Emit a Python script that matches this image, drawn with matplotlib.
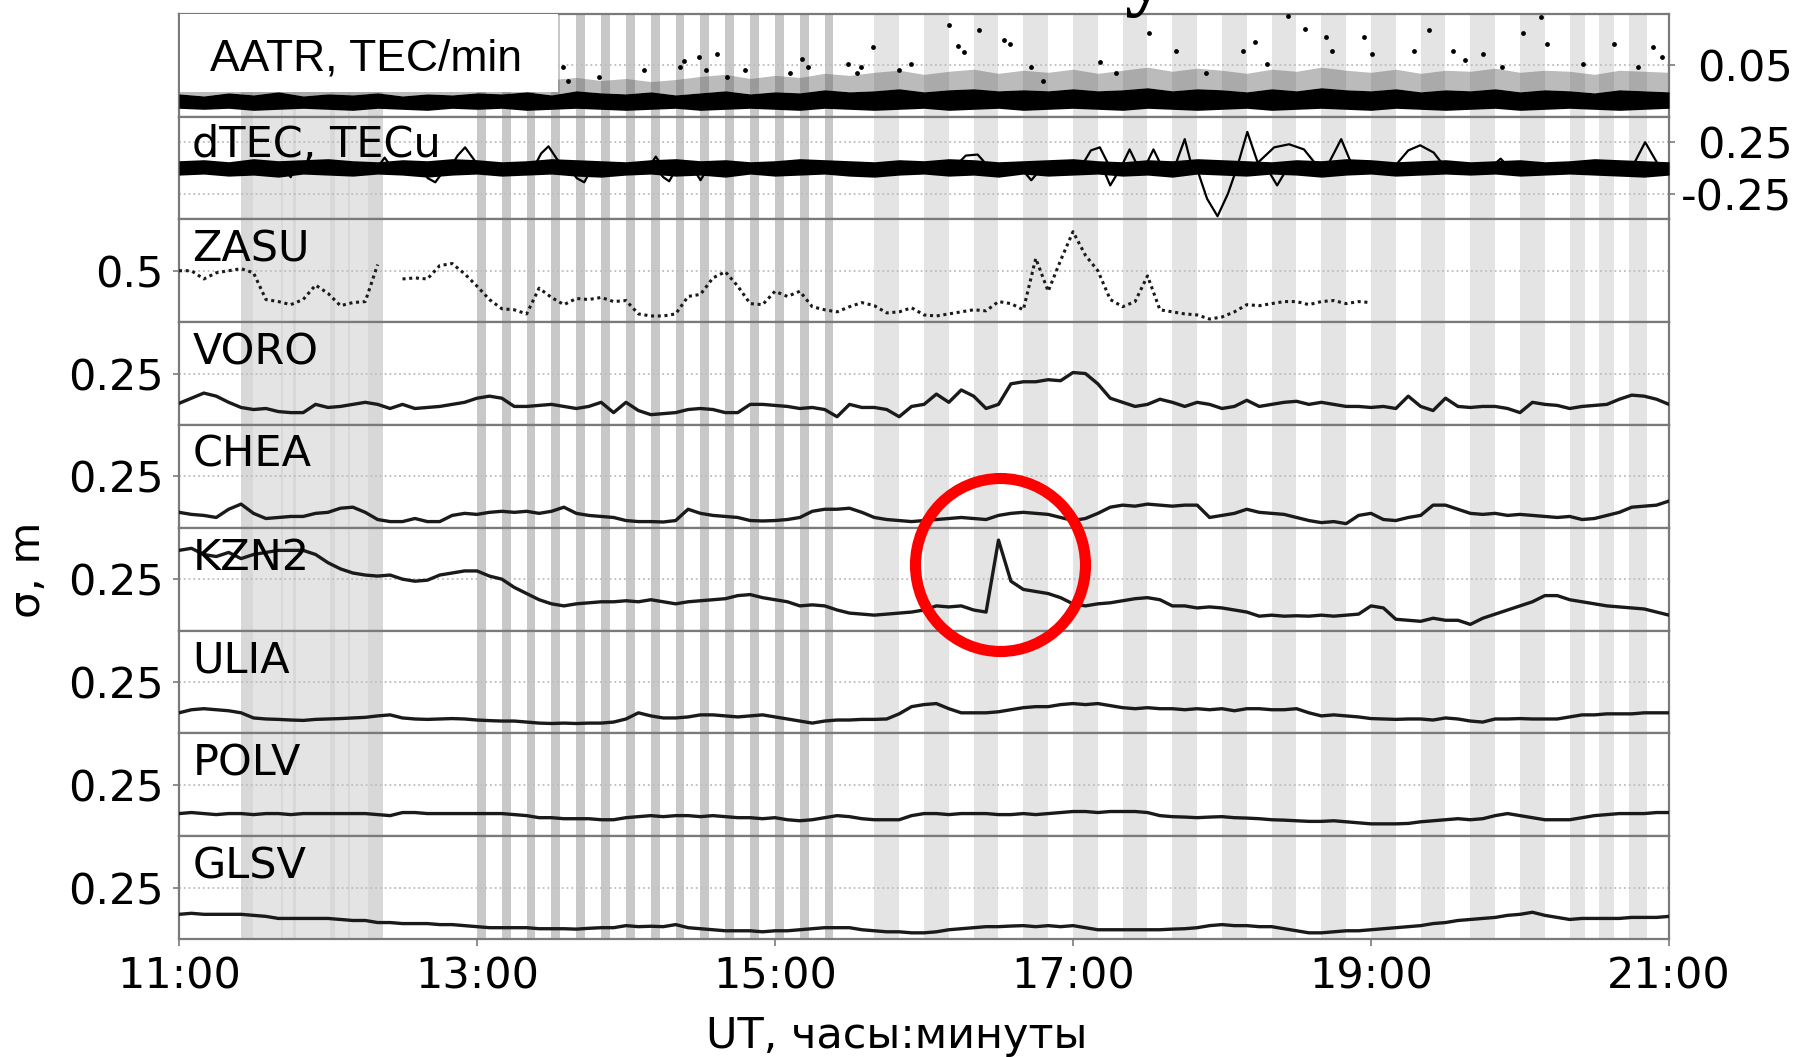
import numpy as np
import matplotlib.pyplot as plt
from matplotlib.patches import Ellipse, Rectangle

plt.rcParams['font.family'] = ['DejaVu Sans']
plt.rcParams['font.size'] = 31
plt.rcParams['axes.unicode_minus'] = False

nan = np.nan

# ---------------- datos ----------------
# series de estaciones, cada 5 minutos de 11:00 a 21:00 (121 valores)
t5 = 11 + np.arange(121) / 12.0
# AATR y nucleo de dTEC cada 10 minutos (61 valores)
t10 = 11 + np.arange(61) / 6.0

estaciones = ['ZASU', 'VORO', 'CHEA', 'KZN2', 'ULIA', 'POLV', 'GLSV']

zasu = [0.50, 0.50, 0.42, 0.48, 0.50, 0.52, 0.48, 0.22, 0.20, 0.17, 0.22, 0.36,
        0.28, 0.16, 0.19, 0.20, 0.56, nan, 0.42, 0.43, 0.42, 0.55, 0.57, 0.47,
        0.35, 0.22, 0.13, 0.12, 0.08, 0.33, 0.24, 0.17, 0.23, 0.22, 0.24, 0.20,
        0.21, 0.08, 0.06, 0.06, 0.08, 0.25, 0.27, 0.43, 0.49, 0.35, 0.18, 0.17,
        0.30, 0.25, 0.30, 0.15, 0.12, 0.10, 0.15, 0.19, 0.16, 0.09, 0.10, 0.14,
        0.07, 0.06, 0.08, 0.10, 0.12, 0.11, 0.20, 0.18, 0.12, 0.62, 0.30, 0.60,
        0.88, 0.65, 0.50, 0.22, 0.15, 0.20, 0.45, 0.12, 0.10, 0.08, 0.07, 0.03,
        0.05, 0.10, 0.17, 0.16, 0.18, 0.20, 0.20, 0.17, 0.20, 0.21, 0.18, 0.20,
        0.19, nan, nan, nan, nan, nan, nan, nan, nan, nan, nan, nan,
        nan, nan, nan, nan, nan, nan, nan, nan, nan, nan, nan, nan,
        nan]

voro = [0.105, 0.13, 0.155, 0.14, 0.11, 0.085, 0.075, 0.08, 0.065, 0.06, 0.06, 0.10,
        0.085, 0.09, 0.10, 0.11, 0.10, 0.08, 0.10, 0.08, 0.085, 0.09, 0.10, 0.11,
        0.13, 0.14, 0.13, 0.09, 0.09, 0.095, 0.10, 0.09, 0.08, 0.09, 0.11, 0.06,
        0.11, 0.07, 0.05, 0.055, 0.06, 0.075, 0.08, 0.075, 0.06, 0.06, 0.10, 0.10,
        0.095, 0.09, 0.08, 0.085, 0.075, 0.04, 0.10, 0.085, 0.085, 0.075, 0.04, 0.09,
        0.10, 0.15, 0.11, 0.17, 0.14, 0.08, 0.10, 0.20, 0.21, 0.21, 0.22, 0.215,
        0.255, 0.25, 0.20, 0.13, 0.11, 0.09, 0.10, 0.125, 0.11, 0.09, 0.11, 0.10,
        0.08, 0.09, 0.12, 0.09, 0.10, 0.11, 0.115, 0.10, 0.11, 0.10, 0.09, 0.09,
        0.085, 0.09, 0.08, 0.14, 0.09, 0.07, 0.13, 0.09, 0.085, 0.09, 0.09, 0.08,
        0.06, 0.11, 0.10, 0.095, 0.08, 0.09, 0.095, 0.10, 0.125, 0.145, 0.14, 0.125,
        0.10]

chea = [0.075, 0.065, 0.06, 0.05, 0.09, 0.115, 0.07, 0.045, 0.05, 0.055, 0.055, 0.07,
        0.075, 0.095, 0.10, 0.075, 0.04, 0.03, 0.03, 0.045, 0.03, 0.03, 0.06, 0.07,
        0.065, 0.075, 0.08, 0.075, 0.08, 0.07, 0.08, 0.10, 0.07, 0.06, 0.055, 0.05,
        0.035, 0.03, 0.03, 0.028, 0.035, 0.09, 0.07, 0.06, 0.055, 0.05, 0.035, 0.033,
        0.035, 0.04, 0.05, 0.08, 0.09, 0.09, 0.095, 0.075, 0.05, 0.04, 0.035, 0.03,
        0.035, 0.04, 0.045, 0.05, 0.045, 0.04, 0.06, 0.07, 0.075, 0.07, 0.065, 0.05,
        0.035, 0.045, 0.07, 0.10, 0.11, 0.105, 0.115, 0.11, 0.105, 0.11, 0.11, 0.05,
        0.06, 0.07, 0.09, 0.075, 0.07, 0.065, 0.05, 0.035, 0.025, 0.03, 0.02, 0.06,
        0.07, 0.04, 0.035, 0.05, 0.06, 0.11, 0.11, 0.09, 0.07, 0.065, 0.07, 0.06,
        0.065, 0.06, 0.055, 0.05, 0.055, 0.04, 0.045, 0.06, 0.075, 0.10, 0.105, 0.11,
        0.13]

kzn2 = [0.39, 0.40, 0.37, 0.36, 0.38, 0.35, 0.37, 0.38, 0.39, 0.39, 0.39, 0.37,
        0.33, 0.30, 0.28, 0.27, 0.265, 0.27, 0.25, 0.24, 0.245, 0.27, 0.28, 0.29,
        0.29, 0.265, 0.25, 0.21, 0.18, 0.15, 0.13, 0.12, 0.13, 0.135, 0.14, 0.14,
        0.145, 0.14, 0.15, 0.14, 0.13, 0.14, 0.145, 0.15, 0.155, 0.17, 0.175, 0.16,
        0.15, 0.14, 0.12, 0.125, 0.12, 0.10, 0.085, 0.08, 0.075, 0.08, 0.085, 0.09,
        0.10, 0.12, 0.115, 0.12, 0.10, 0.09, 0.44, 0.24, 0.20, 0.19, 0.18, 0.16,
        0.13, 0.12, 0.13, 0.135, 0.145, 0.155, 0.16, 0.15, 0.12, 0.12, 0.11, 0.115,
        0.11, 0.10, 0.09, 0.07, 0.075, 0.07, 0.072, 0.07, 0.075, 0.07, 0.075, 0.08,
        0.12, 0.11, 0.055, 0.05, 0.045, 0.06, 0.05, 0.05, 0.03, 0.06, 0.08, 0.10,
        0.12, 0.14, 0.17, 0.17, 0.15, 0.14, 0.13, 0.12, 0.115, 0.11, 0.105, 0.09,
        0.075]

ulia = [0.10, 0.115, 0.12, 0.115, 0.11, 0.10, 0.075, 0.07, 0.068, 0.065, 0.063, 0.068,
        0.07, 0.072, 0.075, 0.078, 0.085, 0.09, 0.075, 0.07, 0.068, 0.07, 0.072, 0.07,
        0.065, 0.062, 0.06, 0.06, 0.055, 0.05, 0.048, 0.05, 0.048, 0.05, 0.05, 0.055,
        0.07, 0.10, 0.085, 0.075, 0.075, 0.08, 0.09, 0.09, 0.085, 0.08, 0.085, 0.09,
        0.08, 0.07, 0.06, 0.05, 0.06, 0.065, 0.065, 0.068, 0.068, 0.07, 0.095, 0.13,
        0.14, 0.145, 0.12, 0.10, 0.10, 0.10, 0.105, 0.115, 0.125, 0.13, 0.13, 0.14,
        0.145, 0.14, 0.145, 0.135, 0.125, 0.12, 0.125, 0.12, 0.12, 0.115, 0.12, 0.115,
        0.12, 0.11, 0.12, 0.12, 0.115, 0.115, 0.12, 0.10, 0.085, 0.09, 0.085, 0.08,
        0.072, 0.07, 0.068, 0.07, 0.07, 0.065, 0.075, 0.07, 0.06, 0.055, 0.07, 0.07,
        0.072, 0.07, 0.07, 0.07, 0.08, 0.09, 0.09, 0.095, 0.095, 0.095, 0.10, 0.10,
        0.10]

polv = [0.11, 0.115, 0.11, 0.105, 0.11, 0.11, 0.105, 0.11, 0.11, 0.105, 0.11, 0.11,
        0.11, 0.11, 0.11, 0.11, 0.105, 0.10, 0.115, 0.115, 0.11, 0.11, 0.11, 0.11,
        0.11, 0.11, 0.11, 0.105, 0.10, 0.09, 0.09, 0.085, 0.085, 0.085, 0.08, 0.08,
        0.09, 0.095, 0.10, 0.095, 0.10, 0.10, 0.095, 0.10, 0.095, 0.09, 0.09, 0.085,
        0.09, 0.08, 0.075, 0.08, 0.09, 0.10, 0.095, 0.085, 0.08, 0.08, 0.08, 0.10,
        0.11, 0.11, 0.105, 0.11, 0.11, 0.11, 0.105, 0.105, 0.11, 0.105, 0.11, 0.115,
        0.12, 0.12, 0.115, 0.12, 0.12, 0.12, 0.115, 0.10, 0.095, 0.093, 0.09, 0.093,
        0.095, 0.09, 0.088, 0.085, 0.08, 0.078, 0.075, 0.072, 0.072, 0.075, 0.07, 0.065,
        0.06, 0.06, 0.06, 0.062, 0.07, 0.075, 0.08, 0.085, 0.08, 0.085, 0.10, 0.11,
        0.10, 0.09, 0.08, 0.08, 0.08, 0.09, 0.10, 0.105, 0.11, 0.11, 0.11, 0.115,
        0.115]

glsv = [0.12, 0.125, 0.12, 0.12, 0.12, 0.12, 0.115, 0.11, 0.10, 0.10, 0.10, 0.10,
        0.10, 0.095, 0.09, 0.09, 0.08, 0.08, 0.075, 0.075, 0.075, 0.07, 0.07, 0.065,
        0.06, 0.055, 0.055, 0.055, 0.055, 0.05, 0.05, 0.05, 0.048, 0.052, 0.055, 0.055,
        0.065, 0.06, 0.062, 0.06, 0.07, 0.055, 0.05, 0.045, 0.04, 0.04, 0.04, 0.035,
        0.04, 0.04, 0.045, 0.05, 0.055, 0.055, 0.055, 0.045, 0.04, 0.035, 0.035, 0.03,
        0.03, 0.035, 0.045, 0.05, 0.055, 0.06, 0.06, 0.063, 0.065, 0.06, 0.065, 0.06,
        0.065, 0.055, 0.045, 0.045, 0.045, 0.045, 0.045, 0.045, 0.048, 0.05, 0.055, 0.065,
        0.07, 0.065, 0.065, 0.06, 0.06, 0.05, 0.04, 0.03, 0.03, 0.035, 0.04, 0.04,
        0.045, 0.05, 0.055, 0.06, 0.065, 0.075, 0.08, 0.09, 0.095, 0.10, 0.105, 0.115,
        0.12, 0.13, 0.115, 0.105, 0.095, 0.10, 0.10, 0.10, 0.10, 0.105, 0.105, 0.105,
        0.11]

series = [zasu, voro, chea, kzn2, ulia, polv, glsv]
limites = [1.0, 0.5, 0.5, 0.5, 0.5, 0.5, 0.5]
ticks_est = [0.5, 0.25, 0.25, 0.25, 0.25, 0.25, 0.25]

# AATR: nucleo denso (bajo / alto), zona difusa y puntos sueltos
aatr_bajo = [0.008, 0.007, 0.008, 0.006, 0.007, 0.008, 0.007, 0.006, 0.008, 0.007, 0.006, 0.008,
             0.007, 0.008, 0.006, 0.007, 0.008, 0.007, 0.006, 0.007, 0.008, 0.006, 0.007, 0.008,
             0.007, 0.006, 0.008, 0.007, 0.006, 0.007, 0.008, 0.006, 0.007, 0.008, 0.006, 0.007,
             0.008, 0.007, 0.006, 0.008, 0.007, 0.006, 0.007, 0.008, 0.006, 0.007, 0.008, 0.007,
             0.006, 0.008, 0.007, 0.006, 0.007, 0.008, 0.006, 0.007, 0.008, 0.007, 0.006, 0.007,
             0.008]
aatr_alto = [0.022, 0.020, 0.023, 0.021, 0.024, 0.020, 0.022, 0.021, 0.023, 0.020, 0.022, 0.021,
             0.023, 0.022, 0.024, 0.021, 0.025, 0.023, 0.022, 0.024, 0.021, 0.023, 0.025, 0.022,
             0.024, 0.023, 0.026, 0.024, 0.025, 0.027, 0.024, 0.026, 0.027, 0.025, 0.026, 0.025,
             0.027, 0.025, 0.026, 0.028, 0.025, 0.027, 0.026, 0.024, 0.027, 0.025, 0.028, 0.026,
             0.025, 0.027, 0.024, 0.026, 0.025, 0.027, 0.024, 0.026, 0.025, 0.023, 0.026, 0.025,
             0.024]
aatr_difuso = [0.031, 0.029, 0.032, 0.030, 0.033, 0.029, 0.031, 0.030, 0.032, 0.029, 0.031, 0.030,
               0.033, 0.032, 0.034, 0.036, 0.038, 0.035, 0.037, 0.034, 0.036, 0.039, 0.041, 0.037,
               0.040, 0.038, 0.042, 0.040, 0.043, 0.045, 0.041, 0.044, 0.046, 0.042, 0.045, 0.043,
               0.046, 0.042, 0.045, 0.048, 0.044, 0.047, 0.045, 0.042, 0.046, 0.044, 0.048, 0.045,
               0.043, 0.046, 0.042, 0.045, 0.044, 0.047, 0.043, 0.045, 0.044, 0.041, 0.045, 0.044,
               0.043]
aatr_pt_t = [13.58, 13.61, 13.82, 14.12, 14.36, 14.39, 14.49, 14.54, 14.61, 14.68, 14.80, 15.10,
             15.18, 15.22, 15.49, 15.55, 15.58, 15.66, 15.83, 15.91, 16.17, 16.23, 16.27, 16.37,
             16.54, 16.58, 16.72, 16.80, 17.18, 17.29, 17.51, 17.69, 17.89, 18.14, 18.22, 18.30,
             18.44, 18.56, 18.70, 18.74, 18.95, 19.01, 19.29, 19.39, 19.55, 19.63, 19.75, 19.88,
             20.02, 20.14, 20.18, 20.42, 20.63, 20.79, 20.89, 20.95]
aatr_pt_v = [0.048, 0.035, 0.038, 0.045, 0.048, 0.054, 0.058, 0.045, 0.061, 0.038, 0.045, 0.042,
             0.056, 0.048, 0.051, 0.042, 0.048, 0.068, 0.045, 0.051, 0.089, 0.069, 0.063, 0.084,
             0.074, 0.071, 0.048, 0.035, 0.053, 0.042, 0.081, 0.064, 0.042, 0.064, 0.072, 0.051,
             0.098, 0.085, 0.077, 0.064, 0.077, 0.061, 0.064, 0.084, 0.064, 0.055, 0.061, 0.048,
             0.081, 0.097, 0.071, 0.051, 0.071, 0.048, 0.068, 0.058]

# dTEC: nucleo y ondas sueltas
dtec_alto = [0.07, 0.08, 0.06, 0.09, 0.07, 0.08, 0.09, 0.07, 0.06, 0.08, 0.07, 0.09,
             0.08, 0.06, 0.07, 0.09, 0.08, 0.07, 0.06, 0.08, 0.09, 0.07, 0.08, 0.06,
             0.07, 0.09, 0.08, 0.07, 0.06, 0.08, 0.07, 0.09, 0.08, 0.06, 0.07, 0.08,
             0.09, 0.07, 0.06, 0.08, 0.07, 0.09, 0.08, 0.07, 0.06, 0.08, 0.07, 0.09,
             0.08, 0.06, 0.07, 0.08, 0.06, 0.07, 0.08, 0.06, 0.07, 0.09, 0.08, 0.07,
             0.06]
dtec_bajo = [-0.07, -0.06, -0.08, -0.07, -0.09, -0.06, -0.07, -0.08, -0.06, -0.07, -0.09, -0.07,
             -0.06, -0.08, -0.07, -0.06, -0.08, -0.09, -0.07, -0.06, -0.08, -0.07, -0.09, -0.06,
             -0.08, -0.07, -0.06, -0.08, -0.09, -0.07, -0.06, -0.08, -0.07, -0.09, -0.06, -0.08,
             -0.07, -0.06, -0.08, -0.07, -0.09, -0.06, -0.07, -0.08, -0.06, -0.07, -0.09, -0.07,
             -0.06, -0.08, -0.07, -0.06, -0.07, -0.06, -0.08, -0.07, -0.06, -0.07, -0.08, -0.09,
             -0.07]
dtec_ondas = [
    ([11.70, 11.75, 11.80, 11.86], [0.0, -0.09, 0.06, 0.0]),
    ([12.33, 12.38, 12.43], [0.0, 0.10, 0.0]),
    ([12.62, 12.67, 12.72, 12.78], [0.0, -0.10, -0.14, -0.02]),
    ([12.82, 12.87, 12.92, 12.97, 13.02], [0.0, 0.12, 0.20, 0.10, 0.0]),
    ([13.38, 13.43, 13.48, 13.53, 13.58], [0.0, 0.14, 0.21, 0.10, 0.0]),
    ([13.62, 13.67, 13.72, 13.77], [0.0, -0.10, -0.14, 0.0]),
    ([14.15, 14.20, 14.25], [0.0, 0.11, 0.0]),
    ([14.20, 14.25, 14.29, 14.34], [0.0, -0.09, -0.13, 0.0]),
    ([14.45, 14.50, 14.55], [0.0, -0.12, 0.0]),
    ([16.20, 16.28, 16.36, 16.44], [0.0, 0.12, 0.13, 0.0]),
    ([16.65, 16.72, 16.79], [0.0, -0.12, 0.0]),
    ([17.05, 17.12, 17.18, 17.25], [0.0, 0.17, 0.20, 0.0]),
    ([17.20, 17.25, 17.32], [0.0, -0.17, 0.0]),
    ([17.32, 17.38, 17.44], [0.0, 0.18, 0.0]),
    ([17.48, 17.54, 17.60], [0.0, 0.18, 0.0]),
    ([17.68, 17.75, 17.80], [0.0, 0.28, 0.0]),
    ([17.83, 17.90, 17.97, 18.04, 18.10], [0.0, -0.30, -0.47, -0.25, 0.0]),
    ([18.10, 18.17, 18.24], [0.0, 0.35, 0.05]),
    ([18.24, 18.35, 18.45, 18.55, 18.65], [0.05, 0.20, 0.23, 0.18, 0.0]),
    ([18.30, 18.37, 18.44], [0.0, -0.17, 0.0]),
    ([18.70, 18.80, 18.88], [0.0, 0.28, 0.0]),
    ([19.15, 19.25, 19.33, 19.42, 19.50], [0.0, 0.17, 0.22, 0.15, 0.0]),
    ([19.80, 19.87, 19.93], [0.0, 0.09, 0.0]),
    ([20.75, 20.84, 20.92], [0.0, 0.25, 0.05]),
]

# franjas grises (inicio, fin)
franjas_claras = [("11:25", "12:22"), ("15:40", "15:50"), ("16:00", "16:10"), ("16:20", "16:30"),
                  ("16:40", "16:50"), ("17:00", "17:10"), ("17:20", "17:30"), ("17:40", "17:50"),
                  ("18:00", "18:10"), ("18:20", "18:30"), ("18:40", "18:50"), ("19:00", "19:10"),
                  ("19:20", "19:30"), ("19:40", "19:50"), ("20:00", "20:10"), ("20:20", "20:26"),
                  ("20:32", "20:38"), ("20:44", "20:51")]
franjas_tenues = [("11:25", "11:30"), ("11:41", "11:42"), ("11:46", "11:47"), ("12:01", "12:03"),
                  ("12:08", "12:09"), ("12:16", "12:22")]
franjas_oscuras = ["13:00", "13:10", "13:20", "13:30", "13:40", "13:50", "14:00", "14:10",
                   "14:20", "14:30", "14:40", "14:50", "15:00", "15:10", "15:20"]
ancho_oscura = 3.5  # minutos

horas_ticks = ["11:00", "13:00", "15:00", "17:00", "19:00", "21:00"]


def hm(s):
    h, m = s.split(':')
    return int(h) + int(m) / 60.0


# ---------------- figura ----------------
W, H = 1796, 1057
fig = plt.figure(figsize=(W / 100, H / 100), dpi=100)

x0, x1 = 179, 1669
y_top, y_bot = 13.7, 939
alto = (y_bot - y_top) / 9
gris = '#7a7a7a'

axes = []
for i in range(9):
    y_ax = 1 - (y_top + (i + 1) * alto) / H
    ax = fig.add_axes([x0 / W, y_ax, (x1 - x0) / W, alto / H])
    ax.set_xlim(11, 21)
    for a, b in franjas_claras:
        ax.axvspan(hm(a), hm(b), color='#e4e4e4', lw=0, zorder=0)
    for a, b in franjas_tenues:
        ax.axvspan(hm(a), hm(b), color='#d8d8d8', lw=0, zorder=0)
    for a in franjas_oscuras:
        ax.axvspan(hm(a), hm(a) + ancho_oscura / 60.0, color='#c8c8c8', lw=0, zorder=0)
    for sp in ax.spines.values():
        sp.set_color(gris)
        sp.set_linewidth(1.6)
    ax.grid(axis='y', ls=':', color='#bdbdbd', lw=1.3)
    ax.tick_params(axis='both', colors=gris, labelcolor='black', length=4, width=1.2)
    ax.tick_params(axis='x', bottom=False, labelbottom=False)
    axes.append(ax)

# panel AATR
ax = axes[0]
ax.fill_between(t10, aatr_alto, aatr_difuso, color='#555555', alpha=0.4, lw=0, zorder=2)
ax.fill_between(t10, aatr_bajo, aatr_alto, color='black', lw=0, zorder=3)
ax.scatter(aatr_pt_t, aatr_pt_v, s=12, color='black', lw=0, zorder=3)
ax.set_ylim(0, 0.1)
ax.yaxis.tick_right()
ax.set_yticks([0.05])
ax.set_yticklabels(['0.05'], ha='right')
ax.tick_params(axis='y', pad=85)

# panel dTEC
ax = axes[1]
ax.fill_between(t10, dtec_bajo, dtec_alto, color='black', lw=0, zorder=3)
for tt, vv in dtec_ondas:
    ax.plot(tt, vv, color='black', lw=1.6, zorder=3)
ax.set_ylim(-0.5, 0.5)
ax.yaxis.tick_right()
ax.set_yticks([0.25, -0.25])
ax.set_yticklabels(['0.25', '-0.25'], ha='right')
ax.tick_params(axis='y', pad=85)
ax.text(0.009, 1 - 40 / alto, 'dTEC, TECu', transform=ax.transAxes, va='baseline', ha='left', zorder=6)

# estaciones
for k, nombre in enumerate(estaciones):
    ax = axes[k + 2]
    if nombre == 'ZASU':
        ax.plot(t5, series[k], color='#1a1a1a', lw=2.2, ls=(0, (1, 1.2)), zorder=3)
    else:
        ax.plot(t5, series[k], color='#1a1a1a', lw=2.4, zorder=3)
    ax.set_ylim(0, limites[k])
    ax.set_yticks([ticks_est[k]])
    ax.set_yticklabels([str(ticks_est[k])])
    ax.tick_params(axis='y', pad=7)
    ax.text(0.009, 1 - 42 / alto, nombre, transform=ax.transAxes, va='baseline', ha='left', zorder=6)

ax = axes[-1]
ax.set_xticks([hm(s) for s in horas_ticks])
ax.set_xticklabels(horas_ticks)
ax.tick_params(axis='x', bottom=True, labelbottom=True, length=5, pad=7)

# recuadro AATR
fig.add_artist(Rectangle((180 / W, 1 - 92 / H), 378 / W, 78 / H, transform=fig.transFigure,
                         facecolor='white', edgecolor='none', zorder=8))
fig.text(210 / W, 1 - 71 / H, 'AATR, TEC/min', family='Liberation Sans', fontsize=32,
         va='baseline', ha='left', zorder=9)

# etiquetas de ejes
fig.text(28 / W, 1 - 570 / H, 'σ, m', rotation=90, va='center', ha='center')
fig.text(897 / W, 1 - 1048 / H, 'UT, часы:минуты', va='baseline', ha='center')

# resto del titulo cortado arriba
fig.text(1124 / W, 1.0, 'y', family='Liberation Serif', fontsize=60, fontweight='bold',
         va='baseline', ha='left')

# circulo rojo
fig.add_artist(Ellipse((1000.5 / W, 1 - 565 / H), 170 / W, 173 / H, transform=fig.transFigure,
                       fill=False, edgecolor='red', lw=8, zorder=10))

fig.savefig('out.png', dpi=100)
